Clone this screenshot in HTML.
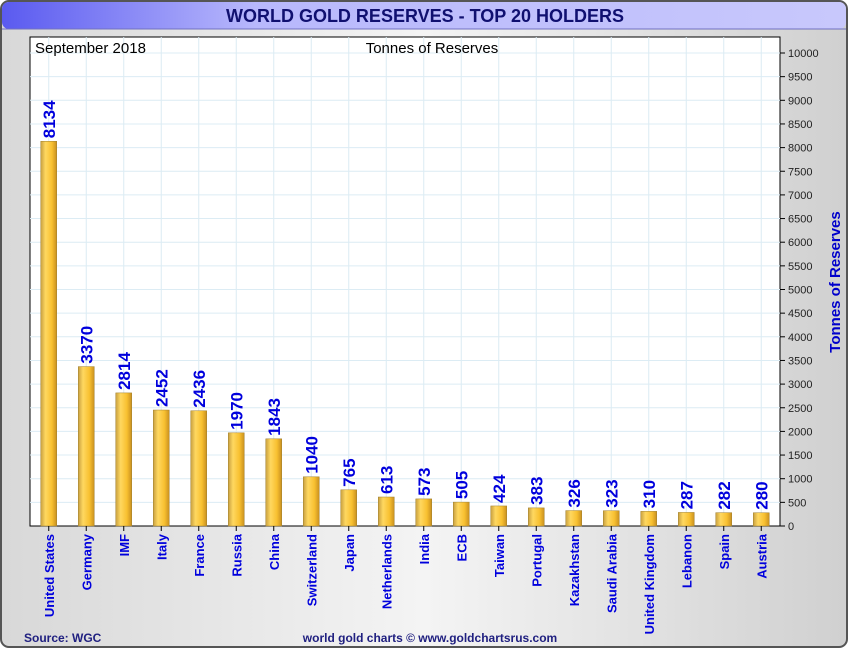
<!DOCTYPE html>
<html><head><meta charset="utf-8"><style>
body{margin:0;width:850px;height:650px;overflow:hidden;font-family:"Liberation Sans",sans-serif;background:#fff}
</style></head><body>
<svg width="850" height="650" xmlns="http://www.w3.org/2000/svg">
<defs>
<linearGradient id="frame" x1="0" x2="1" y1="0" y2="0"><stop offset="0" stop-color="#d8d8d8"/><stop offset="0.5" stop-color="#f4f4f4"/><stop offset="1" stop-color="#d0d0d0"/></linearGradient>
<linearGradient id="title" x1="0" x2="1"><stop offset="0" stop-color="#5a5af0"/><stop offset="0.3" stop-color="#b8b8fc"/><stop offset="1" stop-color="#c8c8fc"/></linearGradient>
<linearGradient id="bar" x1="0" x2="1"><stop offset="0" stop-color="#c8a040"/><stop offset="0.3" stop-color="#ffd860"/><stop offset="0.7" stop-color="#f8c030"/><stop offset="1" stop-color="#c89020"/></linearGradient>
</defs>
<rect x="1" y="1" width="846" height="646" rx="8" fill="url(#frame)" stroke="#555" stroke-width="2"/>
<rect x="2" y="2" width="844" height="27" rx="7" fill="url(#title)"/>
<line x1="2" y1="29" x2="846" y2="29" stroke="#7070c0"/>
<text x="425" y="22" text-anchor="middle" font-size="18" font-weight="bold" fill="#101070">WORLD GOLD RESERVES - TOP 20 HOLDERS</text>
<rect x="30" y="37" width="750" height="489" fill="#fff" stroke="#000"/>
<g id="grid"></g>
<g id="bars"></g>
<g id="axis"></g>
<text x="35" y="53" font-size="15" fill="#000">September 2018</text>
<text x="432" y="53" text-anchor="middle" font-size="15" fill="#000">Tonnes of Reserves</text>
<text transform="translate(840,282) rotate(-90)" text-anchor="middle" font-size="15" font-weight="bold" fill="#0000cc">Tonnes of Reserves</text>
<text x="24" y="642" font-size="12" font-weight="bold" fill="#202080">Source: WGC</text>
<text x="430" y="642" text-anchor="middle" font-size="12" font-weight="bold" fill="#202080">world gold charts © www.goldchartsrus.com</text>
</svg>
<script>
const categories=["United States","Germany","IMF","Italy","France","Russia","China","Switzerland","Japan","Netherlands","India","ECB","Taiwan","Portugal","Kazakhstan","Saudi Arabia","United Kingdom","Lebanon","Spain","Austria"];
const values=[8134,3370,2814,2452,2436,1970,1843,1040,765,613,573,505,424,383,326,323,310,287,282,280];
const yTicks=[0,500,1000,1500,2000,2500,3000,3500,4000,4500,5000,5500,6000,6500,7000,7500,8000,8500,9000,9500,10000];
const NS="http://www.w3.org/2000/svg";
const L=30,R=780,B=526,T=53;
const y=v=>B-(v/10000)*(B-T);
const step=(R-L)/categories.length;
const xc=i=>L+step*(i+0.5);
function mk(t,a,p){const e=document.createElementNS(NS,t);for(const k in a)e.setAttribute(k,a[k]);p.appendChild(e);return e;}
const grid=document.getElementById('grid'),bars=document.getElementById('bars'),axis=document.getElementById('axis');
yTicks.forEach(v=>{
 if(v>0){const g=mk('line',{x1:L,x2:R,y1:y(v),y2:y(v),stroke:'#dcecf4'},grid);
 
 }
 const t=mk('line',{x1:R,x2:R+5,y1:y(v),y2:y(v),stroke:'#000'},axis);
 
 
 const l=mk('text',{x:R+8,y:y(v)+4,'font-size':11,fill:'#222'},axis);l.textContent=v;
 
 
});
categories.forEach((c,i)=>{
 const x=xc(i);
 const g=mk('line',{x1:x,x2:x,y1:37,y2:B,stroke:'#dcecf4'},grid);
 
 
 const b=mk('rect',{x:x-8,y:y(values[i]),width:16,height:B-y(values[i]),fill:'url(#bar)',stroke:'#a08030','stroke-width':0.5},bars);
 
 
 const vt=mk('text',{transform:`translate(${x+6},${y(values[i])-3}) rotate(-90)`,'font-size':17,'font-weight':'bold',fill:'#0000dd'},bars);vt.textContent=values[i];
 
 
 const tk=mk('line',{x1:x,x2:x,y1:B,y2:B+5,stroke:'#000'},axis);
 
 
 const ct=mk('text',{transform:`translate(${x+5},${B+8}) rotate(-90)`,'text-anchor':'end','font-size':13,'font-weight':'bold',fill:'#0000dd'},axis);ct.textContent=c;
 
 
});
</script>
</body></html>
